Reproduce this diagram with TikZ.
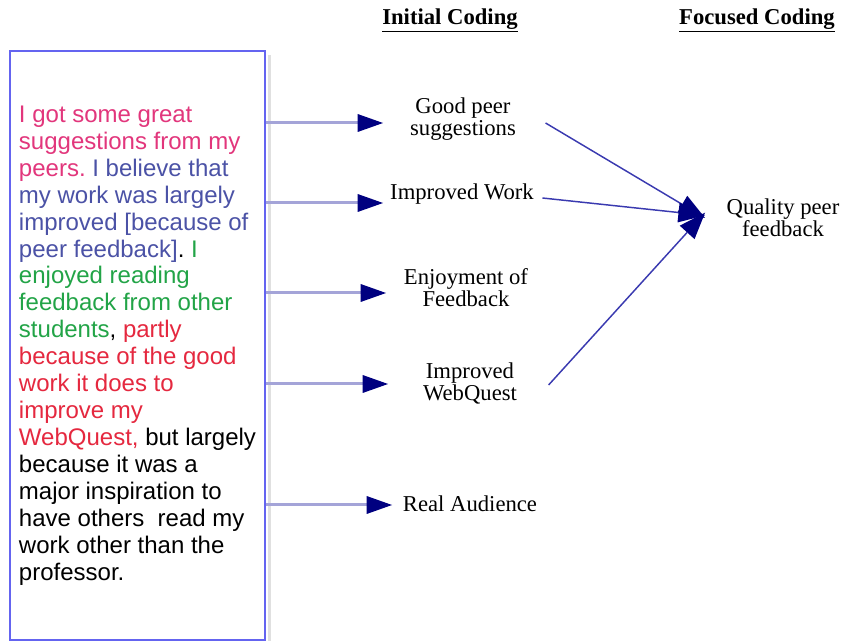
\documentclass[tikz,border=0pt]{standalone}
\usepackage{fontspec}
\setmainfont{Liberation Serif}
\newfontfamily\quotefont{Liberation Sans}
\usepackage{xcolor}
\usepackage{tikz}
\usetikzlibrary{arrows.meta}

\definecolor{boxblue}{HTML}{6464F0}
\definecolor{navyblue}{HTML}{000080}
\definecolor{feedline}{HTML}{A4A4D8}
\definecolor{linkline}{HTML}{3A3AB0}
\definecolor{quotepink}{HTML}{E2367C}
\definecolor{quoteblue}{HTML}{4B52A6}
\definecolor{quotegreen}{HTML}{22A447}
\definecolor{quotered}{HTML}{E5283F}

\begin{document}
\frenchspacing
\begin{tikzpicture}[
    x=0.75pt, y=-0.75pt,
    quotebox/.style={rectangle, draw=boxblue, fill=white, line width=1.5pt, inner sep=0pt, minimum width=191.25pt, minimum height=441.75pt, align=left, font=\quotefont\fontsize{18}{20.2}\selectfont},
    codebox/.style={align=center, inner sep=3.3pt, font=\fontsize{17}{16.5}\selectfont},
    headline/.style={font=\fontsize{17}{20}\selectfont\bfseries},
    feedarrow/.style={-{Triangle[length=19pt, width=13.5pt, color=navyblue, line width=0pt]}, draw=feedline, line width=2.25pt},
    linkarrow/.style={-{Triangle[length=20pt, width=15pt, color=navyblue, line width=0pt]}, draw=linkline, line width=1.1pt}
]
    \useasboundingbox (0,0) rectangle (843,641);

    % quote from the student
    \node [quotebox] (quote) at (137.5,345.5) {%
        \textcolor{quotepink}{I got some great}\\
        \textcolor{quotepink}{suggestions from my}\\
        \textcolor{quotepink}{peers.} \textcolor{quoteblue}{I believe that}\\
        \textcolor{quoteblue}{my work was largely}\\
        \textcolor{quoteblue}{improved [because of}\\
        \textcolor{quoteblue}{peer feedback]}. \textcolor{quotegreen}{I}\\
        \textcolor{quotegreen}{enjoyed reading}\\
        \textcolor{quotegreen}{feedback from other}\\
        \textcolor{quotegreen}{students}, \textcolor{quotered}{partly}\\
        \textcolor{quotered}{because of the good}\\
        \textcolor{quotered}{work it does to}\\
        \textcolor{quotered}{improve my}\\
        \textcolor{quotered}{WebQuest,} but largely\\
        because it was a\\
        major inspiration to\\
        have others\ \ read my\\
        work other than the\\
        professor.};
    \fill [black!12] ([shift={(1.5,5)}]quote.north east) rectangle ([shift={(5,0)}]quote.south east);

    % column headings
    \node [headline] (h1) at (450,20) {\underline{Initial Coding}};
    \node [headline] (h2) at (757,20) {\underline{Focused Coding}};

    % initial codes
    \node [codebox] (c1) at (463,119) {Good peer\\suggestions};
    \node [codebox] (c2) at (462,194) {Improved Work};
    \node [codebox] (c3) at (466,288) {Enjoyment of\\Feedback};
    \node [codebox] (c4) at (470,383) {Improved\\WebQuest};
    \node [codebox] (c5) at (470,504) {Real Audience};

    % focused code
    \node [codebox, inner xsep=16pt] (q) at (783,218) {Quality peer\\feedback};

    \coordinate (t1) at (383,123);
    \coordinate (t2) at (383,203);
    \coordinate (t3) at (386,293);
    \coordinate (t4) at (388,384);
    \coordinate (t5) at (392,505);

    \draw [feedarrow] (quote.east |- t1) -- (t1);
    \draw [feedarrow] (quote.east |- t2) -- (t2);
    \draw [feedarrow] (quote.east |- t3) -- (t3);
    \draw [feedarrow] (quote.east |- t4) -- (t4);
    \draw [feedarrow] (quote.east |- t5) -- (t5);

    \draw [linkarrow] ([shift={(25,4)}]c1.east) -- (q.west);
    \draw [linkarrow] ([shift={(4,4)}]c2.east) -- ([yshift=2]q.west);
    \draw [linkarrow] ([shift={(27,2)}]c4.east) -- ([yshift=4]q.west);
\end{tikzpicture}
\end{document}
